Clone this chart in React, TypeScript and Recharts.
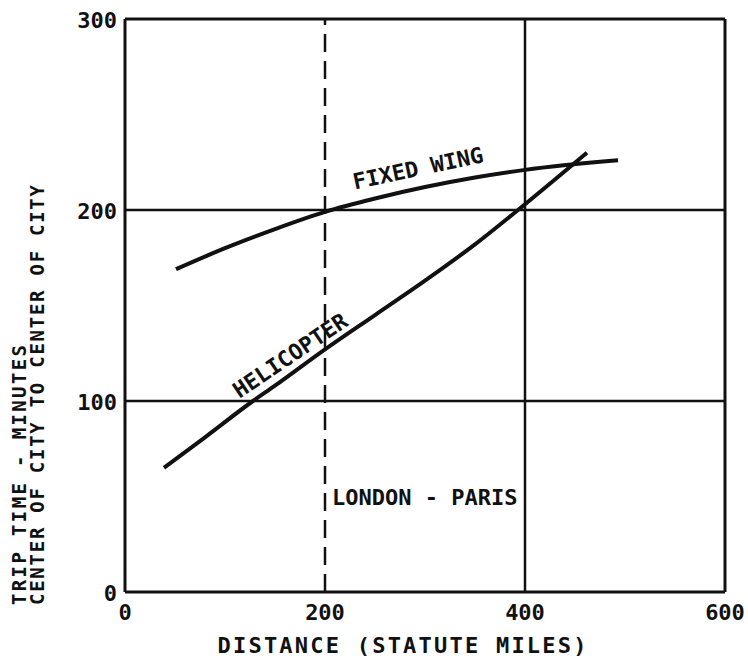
import {
  LineChart, Line, XAxis, YAxis, ReferenceLine, ReferenceDot,
} from "recharts";

// distance (statute miles) / trip time (minutes)
const fixedWingMiles = [51, 100, 150, 200, 250, 300, 350, 400, 493];
const fixedWingMinutes = [169, 180, 190, 199, 206, 212, 217, 221, 226];
const helicopterMiles = [39, 80, 128, 150, 200, 250, 300, 350, 400, 462];
const helicopterMinutes = [65, 81, 100, 108, 127, 145, 163, 182, 203, 230];

const xTicks = [0, 200, 400, 600];
const yTicks = [0, 100, 200, 300];

const fixedWing = fixedWingMiles.map((d, i) => ({ d, t: fixedWingMinutes[i] }));
const helicopter = helicopterMiles.map((d, i) => ({ d, t: helicopterMinutes[i] }));

const FONT = "'DejaVu Sans Mono', monospace";
const INK = "#111";

const YTick = ({ x, y, payload }: any) => (
  <text x={x} y={y + 9} textAnchor="end" fontFamily={FONT} fontWeight="bold" fontSize={22} fill={INK}>
    {payload.value}
  </text>
);

const XTick = ({ x, y, payload }: any) => (
  <text x={x} y={y + 20} textAnchor="middle" fontFamily={FONT} fontWeight="bold" fontSize={22} fill={INK}>
    {payload.value}
  </text>
);

const XTitle = ({ viewBox }: any) => {
  const cx = viewBox.x + viewBox.width / 2 - 23;
  return (
    <text x={cx} y={viewBox.y + 61} textAnchor="middle" fontFamily={FONT} fontWeight="bold"
      fontSize={22} fill={INK} textLength={369} lengthAdjust="spacing">
      DISTANCE (STATUTE MILES)
    </text>
  );
};

const YTitle = ({ viewBox }: any) => {
  const base = viewBox.y + viewBox.height + 13;
  return (
    <g fontFamily={FONT} fontWeight="bold" fontSize={19} fill={INK}>
      <text x={26} y={base} transform={`rotate(-90 26 ${base})`} textLength={260} lengthAdjust="spacing">
        TRIP TIME - MINUTES
      </text>
      <text x={44} y={base} transform={`rotate(-90 44 ${base})`} textLength={420} lengthAdjust="spacing">
        CENTER OF CITY TO CENTER OF CITY
      </text>
    </g>
  );
};

const curveLabel = (text: string, angle: number, anchor: string = "middle") =>
  ({ viewBox }: any) => {
    const cx = viewBox.x + viewBox.width / 2;
    const cy = viewBox.y + viewBox.height / 2;
    return (
      <text x={cx} y={cy + 8} textAnchor={anchor} fontFamily={FONT} fontWeight="bold" fontSize={22}
        fill={INK} transform={`rotate(${angle} ${cx} ${cy})`}>
        {text}
      </text>
    );
  };

const TripTimeChart = () => (
  <div style={{ position: "absolute", left: 0, top: 0, background: "#fff" }}>
    <LineChart width={748} height={659} margin={{ top: 19, right: 23, bottom: 27, left: 65 }}>
      <XAxis
        type="number"
        dataKey="d"
        domain={[0, 600]}
        ticks={xTicks}
        height={40}
        axisLine={{ stroke: INK, strokeWidth: 3 }}
        tickLine={false}
        tick={<XTick />}
        label={{ content: <XTitle /> }}
      />
      <YAxis
        type="number"
        domain={[0, 300]}
        ticks={yTicks}
        width={60}
        axisLine={{ stroke: INK, strokeWidth: 3 }}
        tickLine={false}
        tick={<YTick />}
        label={{ content: <YTitle /> }}
      />
      <ReferenceLine y={300} stroke={INK} strokeWidth={3} />
      <ReferenceLine x={600} stroke={INK} strokeWidth={3} />
      <ReferenceLine y={100} stroke={INK} strokeWidth={2.5} />
      <ReferenceLine y={200} stroke={INK} strokeWidth={2.5} />
      <ReferenceLine x={400} stroke={INK} strokeWidth={2.5} />
      <ReferenceLine x={200} stroke={INK} strokeWidth={2.5} strokeDasharray="18 9" />
      <Line data={fixedWing} dataKey="t" type="monotone" stroke={INK} strokeWidth={4}
        dot={false} isAnimationActive={false} />
      <Line data={helicopter} dataKey="t" type="monotone" stroke={INK} strokeWidth={4}
        dot={false} isAnimationActive={false} />
      <ReferenceDot x={293} y={222} r={1} fill="none" stroke="none"
        label={{ content: curveLabel("FIXED WING", -12) }} />
      <ReferenceDot x={165} y={124} r={1} fill="none" stroke="none"
        label={{ content: curveLabel("HELICOPTER", -34) }} />
      <ReferenceDot x={207} y={50} r={1} fill="none" stroke="none"
        label={{ content: curveLabel("LONDON - PARIS", 0, "start") }} />
    </LineChart>
  </div>
);

export default function App() {
  return <TripTimeChart />;
}
